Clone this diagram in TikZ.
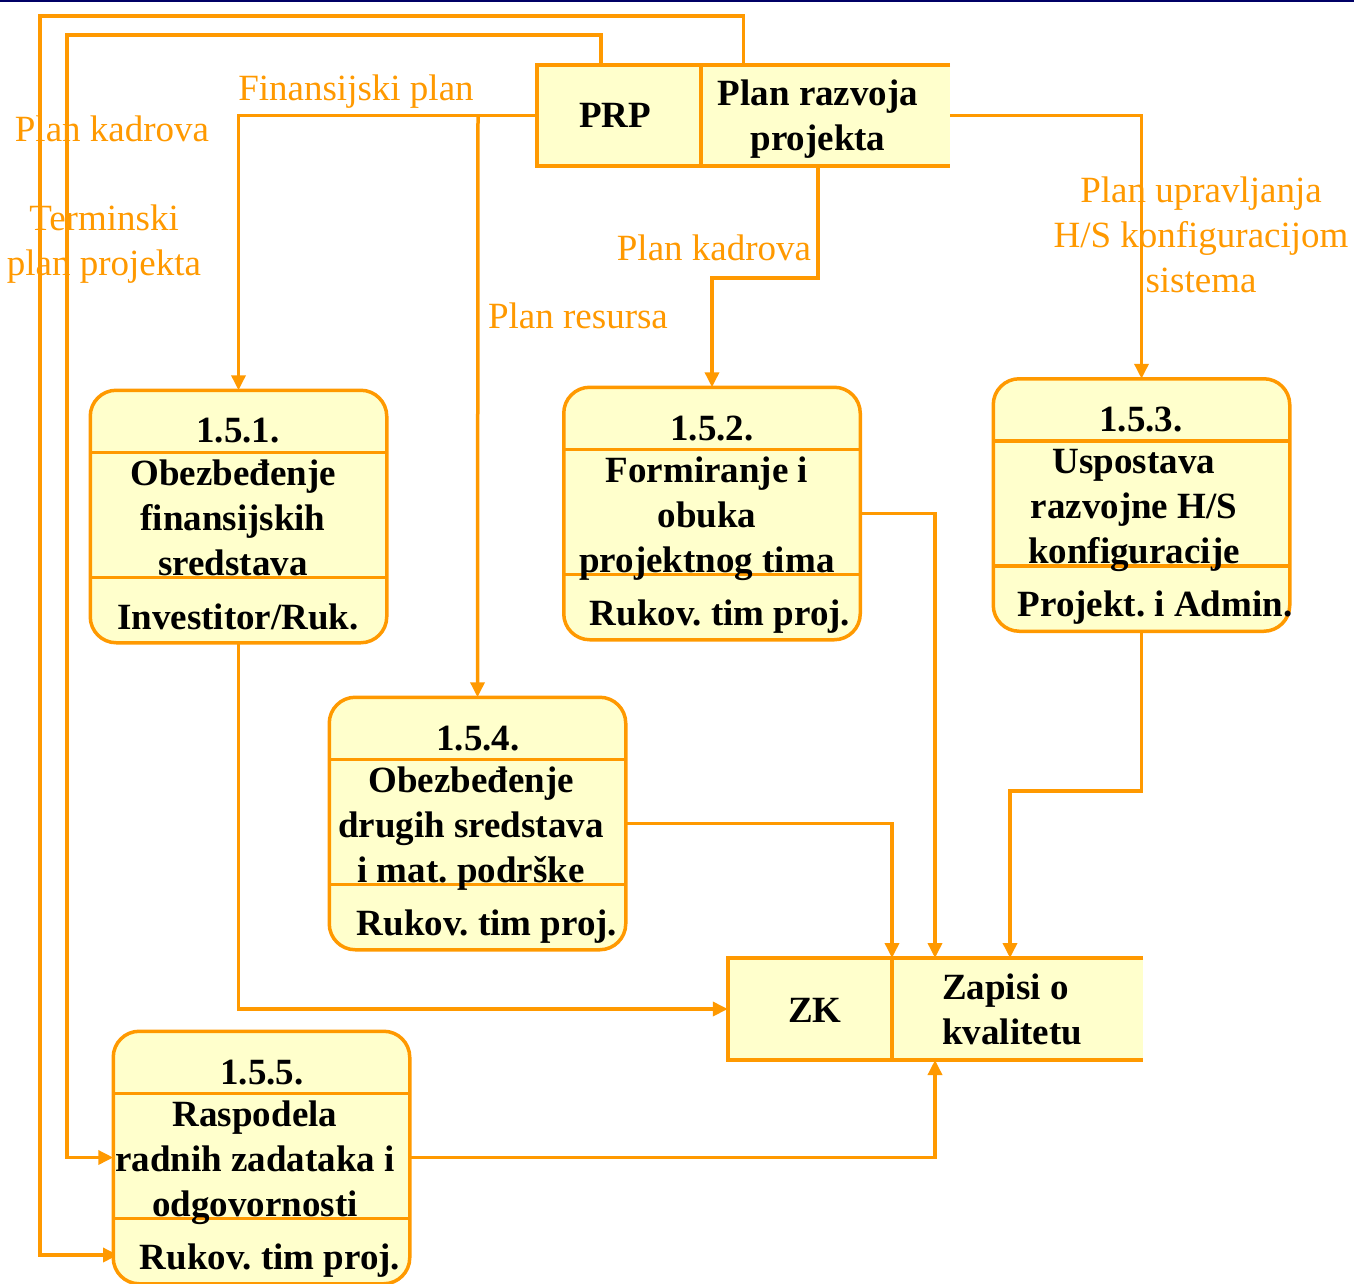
\documentclass[tikz,border=0pt]{standalone}
\usepackage{fontspec}
\setmainfont{Liberation Serif}
\usetikzlibrary{arrows.meta,calc}
\definecolor{org}{HTML}{FF9900}
\definecolor{pale}{HTML}{FFFFCC}
\definecolor{navy}{HTML}{000066}
\frenchspacing
\begin{document}
\begin{tikzpicture}[x=1pt,y=-1pt,
  proc/.style={draw=org, line width=3.5pt, fill=pale, rounded corners=26pt, minimum width=293pt, minimum height=249pt, inner sep=0pt},
  store/.style={fill=pale, inner sep=0pt},
  flow/.style={draw=org, line width=3.5pt, -{Triangle[length=15pt,width=14pt]}},
  wire/.style={draw=org, line width=3.5pt},
  lbl/.style={text=org, font=\fontsize{37}{45}\selectfont, align=center, inner sep=0pt},
  txt/.style={text=black, font=\fontsize{37}{45}\selectfont\bfseries, align=center, inner sep=0pt},
]
\useasboundingbox (0,0) rectangle (1354,1283);
\fill[navy] (0,0) rectangle (1354,2);

% stores (fill only, lines later)
\node[store, minimum width=413pt, minimum height=101pt] (prp) at (743.5,115.5) {};
\node[store, minimum width=415pt, minimum height=102pt] (zk) at (935.5,1009) {};

% process boxes (positions)
\node[proc] (b1) at (238.5,516.5) {};
\node[proc] (b2) at (712,513.5) {};
\node[proc] (b3) at (1141.5,505) {};
\node[proc] (b4) at (477.5,823.5) {};
\node[proc] (b5) at (261.5,1157.5) {};

% helper coordinates
\coordinate (prpA) at (601,65);
\coordinate (prpB) at (818,166);
\coordinate (split) at (478,115.5);
\coordinate (kb) at (712,278);
\coordinate (b5in) at (118,1255);
\coordinate (zkA) at (935,958);
\coordinate (zkB) at (892,958);
\coordinate (zkC) at (1010,958);
\coordinate (zkD) at (935,1060);
\coordinate (mid3) at (1010,791);

% connectors
\draw[flow] (prp.north) |- (40,16) |- (b5in);
\draw[flow] (prpA) |- (67,35) |- (b5.west);
\draw[flow] (prp.west) -| (b1.north);
\draw[flow] (split) -- (b4.north);
\draw[flow] (prpB) |- (kb) -- (b2.north);
\draw[flow] (prp.east) -| (b3.north);
\draw[flow] (b1.south) |- (zk.west);
\draw[flow] (b2.east) -| (zkA);
\draw[flow] (b4.east) -| (zkB);
\draw[flow] (b3.south) |- (mid3) -- (zkC);
\draw[flow] (b5.east) -| (zkD);

% redraw boxes on top
\foreach \b in {b1,b2,b3,b4,b5}{
  \path[draw=org, line width=3.5pt, fill=pale, rounded corners=26pt] (\b.north west) rectangle (\b.south east);
  \draw[wire] ($(\b.north west)+(0,62)$) -- ($(\b.north east)+(0,62)$);
  \draw[wire] ($(\b.north west)+(0,187)$) -- ($(\b.north east)+(0,187)$);
}

% store outlines
\draw[wire] (950,65) -- (537,65) -- (537,166) -- (950,166);
\draw[wire] (701,65) -- (701,166);
\draw[wire] (1143,958) -- (728,958) -- (728,1060) -- (1143,1060);
\draw[wire] (892,958) -- (892,1060);

% store texts
\node[txt] (tprp) at (615,115) {PRP};
\node[txt] (tprp2) at (818,119) {Plan razvoja\\projekta};
\node[txt] (tzk) at (815,1010) {ZK};
\node[txt, align=left, anchor=west] (tzk2) at (942,1009) {Zapisi o\\kvalitetu};

% process texts
\node[txt] (t1a) at (238,431) {1.5.1.};
\node[txt] (t1b) at (233,518) {Obezbeđenje\\finansijskih\\sredstava};
\node[txt] (t1c) at (238,617) {Investitor/Ruk.};

\node[txt] (t2a) at (712,429) {1.5.2.};
\node[txt] (t2b) at (707,519) {Formiranje i\\obuka\\projektnog tima};
\node[txt] (t2c) at (720,617) {Rukov. tim proj.};

\node[txt] (t3a) at (1141,420) {1.5.3.};
\node[txt] (t3b) at (1134,510) {Uspostava\\razvojne H/S\\konfiguracije};
\node[txt] (t3c) at (1155,608) {Projekt. i Admin.};

\node[txt] (t4a) at (478,739) {1.5.4.};
\node[txt] (t4b) at (471,829) {Obezbeđenje\\drugih sredstava\\i mat. podrške};
\node[txt] (t4c) at (487,927) {Rukov. tim proj.};

\node[txt] (t5a) at (262,1073) {1.5.5.};
\node[txt] (t5b) at (255,1163) {Raspodela\\radnih zadataka i\\odgovornosti};
\node[txt] (t5c) at (270,1261) {Rukov. tim proj.};

% labels
\node[lbl] (l1) at (356,92) {Finansijski plan};
\node[lbl] (l2) at (112,129) {Plan kadrova};
\node[lbl] (l3) at (104,244) {Terminski\\plan projekta};
\node[lbl] (l4) at (714,248) {Plan kadrova};
\node[lbl] (l5) at (578,316) {Plan resursa};
\node[lbl] (l6) at (1201,235) {Plan upravljanja\\H/S konfiguracijom\\sistema};
\end{tikzpicture}
\end{document}
